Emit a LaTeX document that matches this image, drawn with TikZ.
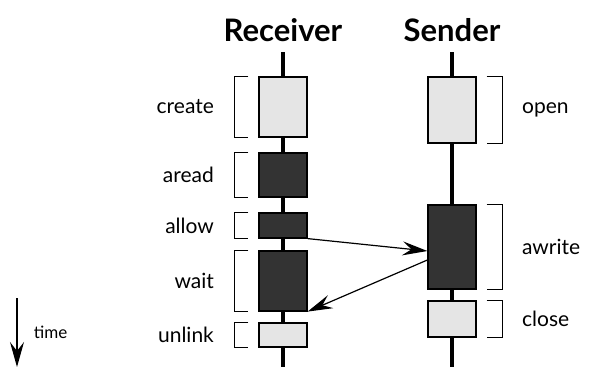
\documentclass[tikz,border=0pt]{standalone}
\usepackage{fontspec}
\setmainfont{Lato}
\usetikzlibrary{arrows.meta}
\usetikzlibrary{positioning}

\begin{document}
\begin{tikzpicture}[x=1pt,y=-1pt,
		life/.style={line width=4pt},
		call/.style={draw, line width=1.2pt, minimum width=48pt, inner sep=0pt},
		light/.style={call, fill=black!10},
		dark/.style={call, fill=black!80},
		bracket/.style={line width=1pt},
		lbl/.style={font=\fontsize{21}{25}\selectfont, inner sep=0pt},
		title/.style={font=\fontsize{31}{36}\selectfont\bfseries},
		msg/.style={line width=1.2pt, -{Stealth[length=25pt, width=14pt, inset=9pt]}}]
	\useasboundingbox (0,0) rectangle (590,367);
	
	% titles
	\node[title] (recv) at (283,30) {Receiver};
	\node[title] (send) at (452,30) {Sender};
	
	% lifelines
	\coordinate (rtop) at (283,52);
	\coordinate (rbot) at (283,367);
	\coordinate (stop) at (452,52);
	\coordinate (sbot) at (452,367);
	\draw[life] (rtop) -- (rbot);
	\draw[life] (stop) -- (sbot);
	
	% receiver calls
	\node[light, minimum height=60pt] (create) at (283,107) {};
	\node[dark, minimum height=44pt] (aread) at (283,175) {};
	\node[dark, minimum height=25pt] (allow) at (283,225.5) {};
	\node[dark, minimum height=60pt] (wait) at (283,281) {};
	\node[light, minimum height=24pt] (unlink) at (283,335) {};
	
	% sender calls
	\node[light, minimum height=66pt] (open) at (452,110) {};
	\node[dark, minimum height=84pt] (awrite) at (452,247) {};
	\node[light, minimum height=36pt] (close) at (452,319) {};
	
	% brackets, receiver side
	\foreach \c in {create,aread,allow,wait,unlink}
		\draw[bracket] ([xshift=-10pt]\c.north west) -- ++(-14,0) |- ([xshift=-10pt]\c.south west)
			node[pos=.25, left=20pt, lbl] {\c};
	
	% brackets, sender side
	\foreach \c in {open,awrite,close}
		\draw[bracket] ([xshift=10pt]\c.north east) -- ++(16,0) |- ([xshift=10pt]\c.south east)
			node[pos=.25, right=19pt, lbl] {\c};
	
	% messages
	\draw[msg] (allow.south east) -- ([yshift=-4pt]awrite.west);
	\draw[msg] ([yshift=-13pt]awrite.west) -- (wait.south east);
	
	% time
	\coordinate (t0) at (17,298);
	\coordinate (t1) at (17,367);
	\draw[msg] (t0) -- (t1) node[midway, right=13pt, font=\fontsize{17}{20}\selectfont] {time};
\end{tikzpicture}
\end{document}
